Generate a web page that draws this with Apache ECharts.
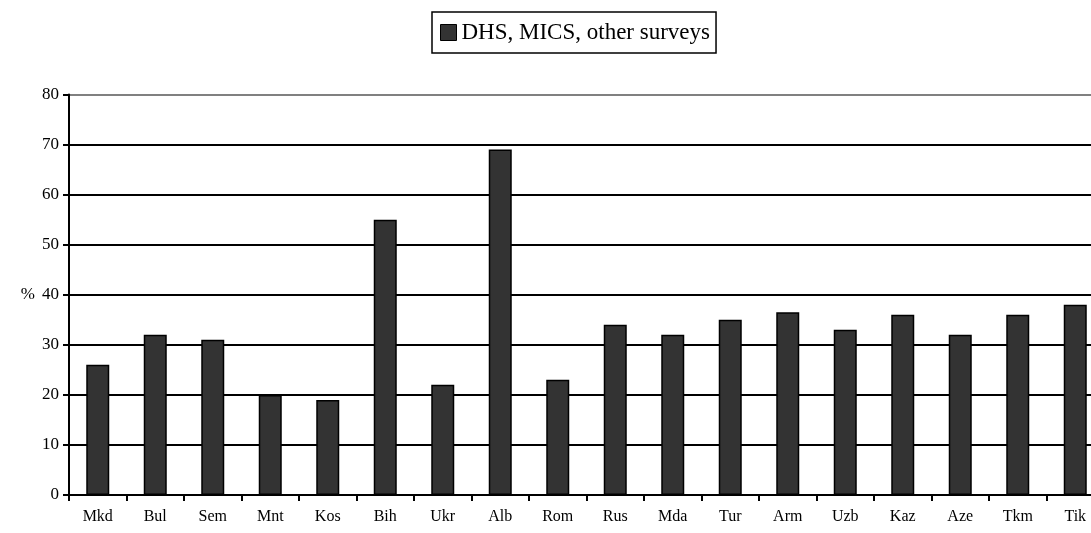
<!DOCTYPE html>
<html>
<head>
<meta charset="utf-8">
<script src="https://cdn.jsdelivr.net/npm/echarts@6/dist/echarts.min.js"></script>
<style>html,body{margin:0;padding:0;background:#fff;overflow:hidden;}#c{width:1120px;height:533px;}</style>
</head>
<body>
<div id="c"></div>
<script>
const categories = ['Mkd','Bul','Sem','Mnt','Kos','Bih','Ukr','Alb','Rom','Rus','Mda','Tur','Arm','Uzb','Kaz','Aze','Tkm','Tik'];
const values = [26,32,31,20,19,55,22,69,23,34,32,35,36.5,33,36,32,36,38];
const seriesName = 'DHS, MICS, other surveys';
const yTicks = [0,10,20,30,40,50,60,70,80];

const chart = echarts.init(document.getElementById('c'));
const font = '"Liberation Serif", "Times New Roman", serif';
chart.setOption({
  animation: false,
  backgroundColor: '#fff',
  legend: {
    top: 12, left: 432,
    data: [seriesName],
    icon: 'rect',
    itemWidth: 16, itemHeight: 16,
    itemGap: 6,
    padding: [9, 6, 9, 8],
    borderColor: '#000', borderWidth: 1.5,
    textStyle: { fontFamily: font, fontSize: 23, color: '#000' },
    itemStyle: { borderColor: '#000', borderWidth: 1 }
  },
  grid: { left: 69, top: 94.5, width: 1035, height: 400.5, containLabel: false },
  xAxis: {
    type: 'category', data: categories,
    axisLine: { lineStyle: { color: '#000', width: 2 } },
    axisTick: { show: true, length: 6, lineStyle: { color: '#000', width: 2 }, alignWithLabel: false },
    axisLabel: { fontFamily: font, fontSize: 16, color: '#000', margin: 14 }
  },
  yAxis: {
    type: 'value', min: yTicks[0], max: yTicks[yTicks.length-1], interval: 10,
    name: '%', nameLocation: 'middle', nameRotate: 0, nameGap: 34,
    nameTextStyle: { fontFamily: font, fontSize: 17, color: '#000' },
    axisLine: { show: true, lineStyle: { color: '#000', width: 2 } },
    axisTick: { show: true, length: 6, lineStyle: { color: '#000', width: 2 } },
    axisLabel: { fontFamily: font, fontSize: 17, color: '#000', margin: 10 },
    splitLine: { show: true, lineStyle: { color: ['#000','#000','#000','#000','#000','#000','#000','#000','#808080'], width: 2 } }
  },
  series: [{
    name: seriesName, type: 'bar', data: values,
    barWidth: 23,
    itemStyle: { color: '#333333', borderColor: '#000', borderWidth: 1.5 }
  }]
});
</script>
</body>
</html>
